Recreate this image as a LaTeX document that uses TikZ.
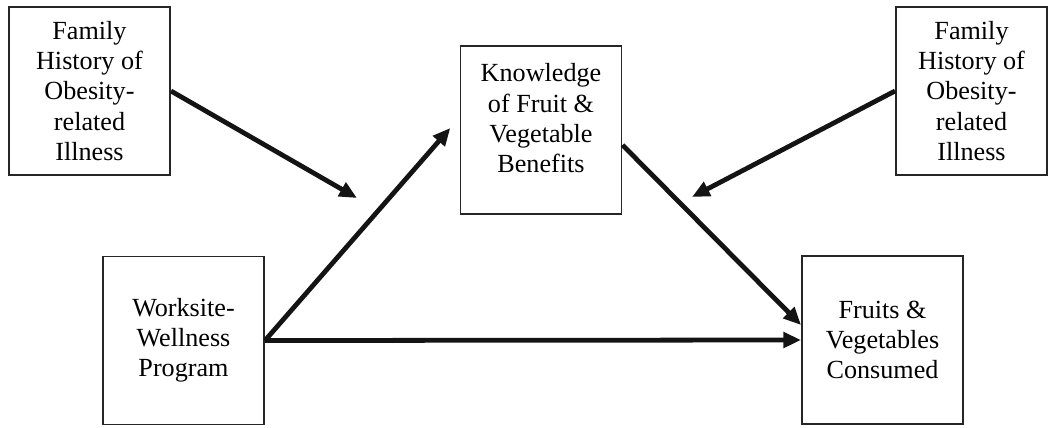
\documentclass[tikz,border=0pt]{standalone}
\usepackage{fontspec}
\setmainfont{Liberation Serif}
\usetikzlibrary{arrows.meta,positioning,calc}
\tikzset{
  factor/.style={draw=black!85,line width=1.4pt,fill=white,align=center,inner sep=2pt,
                 minimum width=4.025cm,minimum height=4.2cm,
                 font=\rmfamily\fontsize{18.6}{21.4}\selectfont},
  effect/.style={-{Triangle[length=4.4mm,width=3.8mm]},draw=black!92,line width=3.4pt},
}

\begin{document}
\begin{tikzpicture}[x=1cm,y=1cm]
  \useasboundingbox (0,0) rectangle (26.25,-10.675);
  \node[factor] (famL) at (2.2375,-2.275) {Family\\History of\\Obesity-\\related\\Illness};
  \node[factor] (know) at (13.525,-3.25) {Knowledge\\of Fruit \&\\Vegetable\\Benefits\rule[-0.6cm]{0pt}{0.6cm}};
  \node[factor,minimum width=3.775cm] (famR) at (24.2875,-2.275)
    {Family\\History of\\Obesity-\\related\\Illness};
  \node[factor] (work) at (4.5875,-8.5125) {Worksite-\\Wellness\\Program};
  \node[factor] (fruit) at (22.0625,-8.5) {Fruits \&\\Vegetables\\Consumed};
  \coordinate (modL) at (8.925,-4.95);
  \coordinate (modR) at (17.3,-4.925);
  \draw[effect] (famL.east) -- (modL);
  \draw[effect] (famR.west) -- (modR);
  \draw[effect] (work.east) -- ([xshift=-2.3mm,yshift=0.5mm]know.west);
  \draw[effect] ([yshift=-3.75mm]know.east) -- ([yshift=3.75mm]fruit.west);
  \draw[effect] (work.east) -- (fruit.west);
\end{tikzpicture}
\end{document}
